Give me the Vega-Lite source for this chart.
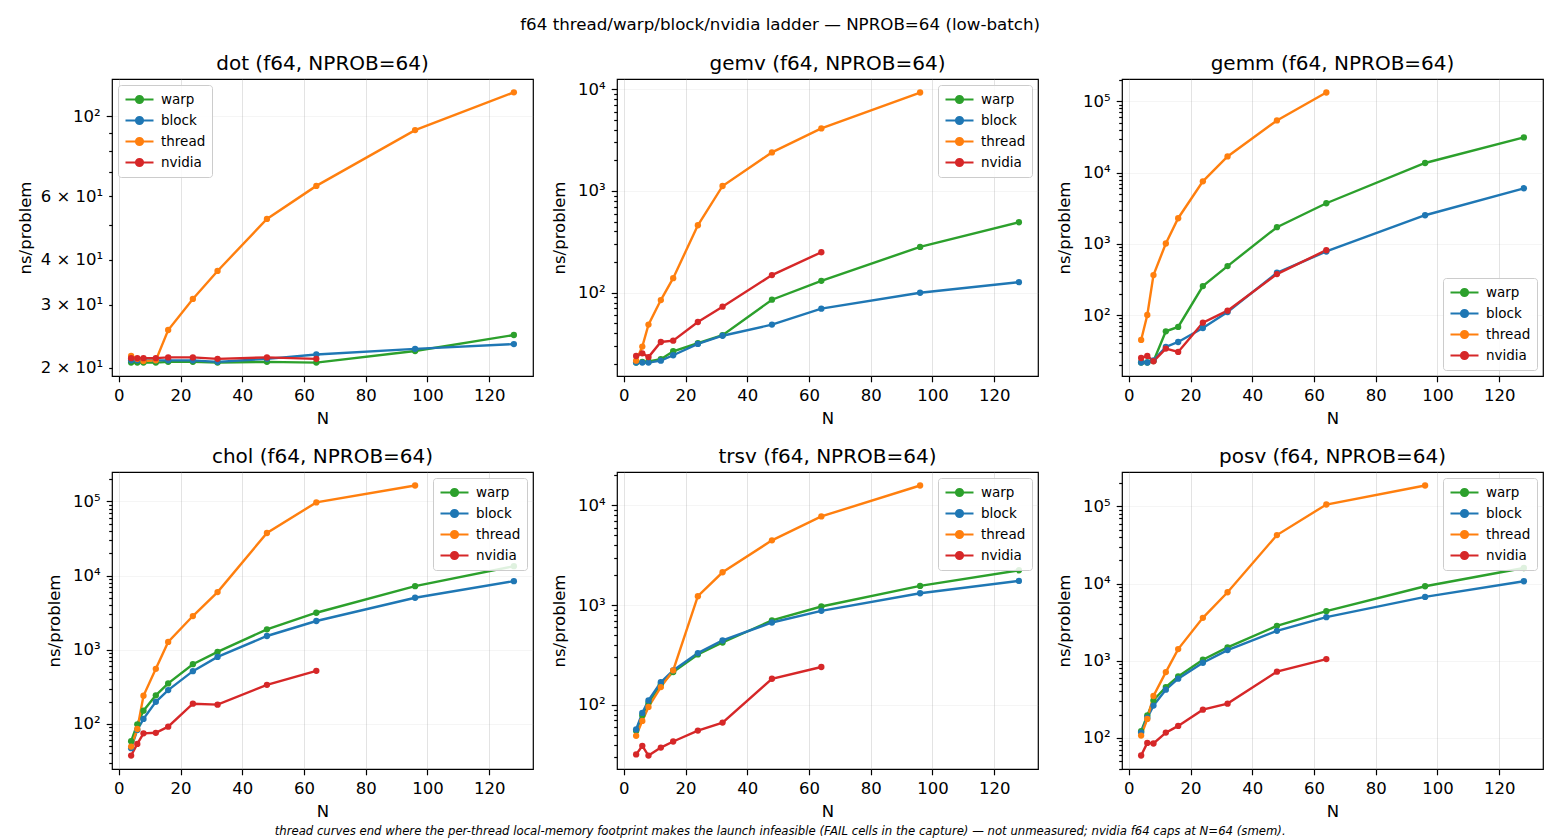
{
  "$schema": "https://vega.github.io/schema/vega-lite/v6.json",
  "padding": {"left": 16, "top": 16, "right": 12, "bottom": 4},
  "title": {"text": "f64 thread/warp/block/nvidia ladder — NPROB=64 (low-batch)", "fontSize": 16.7, "offset": 20, "anchor": "middle", "frame": "bounds"},
  "data": {"values": [
    {"op":"dot","impl":"warp","N":4,"ns":20.7},{"op":"dot","impl":"warp","N":6,"ns":20.7},{"op":"dot","impl":"warp","N":8,"ns":20.7},{"op":"dot","impl":"warp","N":12,"ns":20.7},{"op":"dot","impl":"warp","N":16,"ns":20.8},{"op":"dot","impl":"warp","N":24,"ns":20.8},{"op":"dot","impl":"warp","N":32,"ns":20.7},{"op":"dot","impl":"warp","N":48,"ns":20.8},{"op":"dot","impl":"warp","N":64,"ns":20.7},{"op":"dot","impl":"warp","N":96,"ns":22.3},{"op":"dot","impl":"warp","N":128,"ns":24.7},
    {"op":"dot","impl":"block","N":4,"ns":21.0},{"op":"dot","impl":"block","N":6,"ns":21.0},{"op":"dot","impl":"block","N":8,"ns":21.0},{"op":"dot","impl":"block","N":12,"ns":21.0},{"op":"dot","impl":"block","N":16,"ns":21.0},{"op":"dot","impl":"block","N":24,"ns":21.0},{"op":"dot","impl":"block","N":32,"ns":20.8},{"op":"dot","impl":"block","N":48,"ns":21.2},{"op":"dot","impl":"block","N":64,"ns":21.8},{"op":"dot","impl":"block","N":96,"ns":22.6},{"op":"dot","impl":"block","N":128,"ns":23.3},
    {"op":"dot","impl":"thread","N":4,"ns":21.6},{"op":"dot","impl":"thread","N":6,"ns":21.2},{"op":"dot","impl":"thread","N":8,"ns":20.9},{"op":"dot","impl":"thread","N":12,"ns":21.0},{"op":"dot","impl":"thread","N":16,"ns":25.5},{"op":"dot","impl":"thread","N":24,"ns":31.1},{"op":"dot","impl":"thread","N":32,"ns":37.2},{"op":"dot","impl":"thread","N":48,"ns":51.9},{"op":"dot","impl":"thread","N":64,"ns":64.1},{"op":"dot","impl":"thread","N":96,"ns":91.6},{"op":"dot","impl":"thread","N":128,"ns":116.6},
    {"op":"dot","impl":"nvidia","N":4,"ns":21.3},{"op":"dot","impl":"nvidia","N":6,"ns":21.3},{"op":"dot","impl":"nvidia","N":8,"ns":21.3},{"op":"dot","impl":"nvidia","N":12,"ns":21.3},{"op":"dot","impl":"nvidia","N":16,"ns":21.4},{"op":"dot","impl":"nvidia","N":24,"ns":21.4},{"op":"dot","impl":"nvidia","N":32,"ns":21.2},{"op":"dot","impl":"nvidia","N":48,"ns":21.4},{"op":"dot","impl":"nvidia","N":64,"ns":21.2},

    {"op":"gemv","impl":"warp","N":4,"ns":20.6},{"op":"gemv","impl":"warp","N":6,"ns":20.9},{"op":"gemv","impl":"warp","N":8,"ns":21.1},{"op":"gemv","impl":"warp","N":12,"ns":22.2},{"op":"gemv","impl":"warp","N":16,"ns":26.6},{"op":"gemv","impl":"warp","N":24,"ns":31.9},{"op":"gemv","impl":"warp","N":32,"ns":38.2},{"op":"gemv","impl":"warp","N":48,"ns":85.4},{"op":"gemv","impl":"warp","N":64,"ns":131},{"op":"gemv","impl":"warp","N":96,"ns":282},{"op":"gemv","impl":"warp","N":128,"ns":493},
    {"op":"gemv","impl":"block","N":4,"ns":20.6},{"op":"gemv","impl":"block","N":6,"ns":20.6},{"op":"gemv","impl":"block","N":8,"ns":20.6},{"op":"gemv","impl":"block","N":12,"ns":21.5},{"op":"gemv","impl":"block","N":16,"ns":24.3},{"op":"gemv","impl":"block","N":24,"ns":31.4},{"op":"gemv","impl":"block","N":32,"ns":37.8},{"op":"gemv","impl":"block","N":48,"ns":48.6},{"op":"gemv","impl":"block","N":64,"ns":69.7},{"op":"gemv","impl":"block","N":96,"ns":100},{"op":"gemv","impl":"block","N":128,"ns":127},
    {"op":"gemv","impl":"thread","N":4,"ns":21.5},{"op":"gemv","impl":"thread","N":6,"ns":29.6},{"op":"gemv","impl":"thread","N":8,"ns":48.6},{"op":"gemv","impl":"thread","N":12,"ns":84.7},{"op":"gemv","impl":"thread","N":16,"ns":139},{"op":"gemv","impl":"thread","N":24,"ns":460},{"op":"gemv","impl":"thread","N":32,"ns":1119},{"op":"gemv","impl":"thread","N":48,"ns":2393},{"op":"gemv","impl":"thread","N":64,"ns":4115},{"op":"gemv","impl":"thread","N":96,"ns":9275},
    {"op":"gemv","impl":"nvidia","N":4,"ns":23.9},{"op":"gemv","impl":"nvidia","N":6,"ns":25.4},{"op":"gemv","impl":"nvidia","N":8,"ns":23.3},{"op":"gemv","impl":"nvidia","N":12,"ns":32.8},{"op":"gemv","impl":"nvidia","N":16,"ns":33.8},{"op":"gemv","impl":"nvidia","N":24,"ns":51.6},{"op":"gemv","impl":"nvidia","N":32,"ns":72.9},{"op":"gemv","impl":"nvidia","N":48,"ns":149},{"op":"gemv","impl":"nvidia","N":64,"ns":250},

    {"op":"gemm","impl":"warp","N":4,"ns":21.5},{"op":"gemm","impl":"warp","N":6,"ns":21.5},{"op":"gemm","impl":"warp","N":8,"ns":22.5},{"op":"gemm","impl":"warp","N":12,"ns":59},{"op":"gemm","impl":"warp","N":16,"ns":68},{"op":"gemm","impl":"warp","N":24,"ns":255},{"op":"gemm","impl":"warp","N":32,"ns":487},{"op":"gemm","impl":"warp","N":48,"ns":1713},{"op":"gemm","impl":"warp","N":64,"ns":3715},{"op":"gemm","impl":"warp","N":96,"ns":13670},{"op":"gemm","impl":"warp","N":128,"ns":31300},
    {"op":"gemm","impl":"block","N":4,"ns":21.5},{"op":"gemm","impl":"block","N":6,"ns":21.5},{"op":"gemm","impl":"block","N":8,"ns":23.1},{"op":"gemm","impl":"block","N":12,"ns":35.6},{"op":"gemm","impl":"block","N":16,"ns":41.8},{"op":"gemm","impl":"block","N":24,"ns":65.7},{"op":"gemm","impl":"block","N":32,"ns":110},{"op":"gemm","impl":"block","N":48,"ns":392},{"op":"gemm","impl":"block","N":64,"ns":781},{"op":"gemm","impl":"block","N":96,"ns":2523},{"op":"gemm","impl":"block","N":128,"ns":6030},
    {"op":"gemm","impl":"thread","N":4,"ns":44.6},{"op":"gemm","impl":"thread","N":6,"ns":100},{"op":"gemm","impl":"thread","N":8,"ns":364},{"op":"gemm","impl":"thread","N":12,"ns":1010},{"op":"gemm","impl":"thread","N":16,"ns":2290},{"op":"gemm","impl":"thread","N":24,"ns":7560},{"op":"gemm","impl":"thread","N":32,"ns":16900},{"op":"gemm","impl":"thread","N":48,"ns":54200},{"op":"gemm","impl":"thread","N":64,"ns":133700},
    {"op":"gemm","impl":"nvidia","N":4,"ns":24.9},{"op":"gemm","impl":"nvidia","N":6,"ns":26.6},{"op":"gemm","impl":"nvidia","N":8,"ns":22.4},{"op":"gemm","impl":"nvidia","N":12,"ns":33.7},{"op":"gemm","impl":"nvidia","N":16,"ns":30.3},{"op":"gemm","impl":"nvidia","N":24,"ns":78.1},{"op":"gemm","impl":"nvidia","N":32,"ns":115},{"op":"gemm","impl":"nvidia","N":48,"ns":376},{"op":"gemm","impl":"nvidia","N":64,"ns":815},

    {"op":"chol","impl":"warp","N":4,"ns":58.4},{"op":"chol","impl":"warp","N":6,"ns":98.9},{"op":"chol","impl":"warp","N":8,"ns":151},{"op":"chol","impl":"warp","N":12,"ns":243},{"op":"chol","impl":"warp","N":16,"ns":352},{"op":"chol","impl":"warp","N":24,"ns":639},{"op":"chol","impl":"warp","N":32,"ns":936},{"op":"chol","impl":"warp","N":48,"ns":1887},{"op":"chol","impl":"warp","N":64,"ns":3160},{"op":"chol","impl":"warp","N":96,"ns":7210},{"op":"chol","impl":"warp","N":128,"ns":13390},
    {"op":"chol","impl":"block","N":4,"ns":47.1},{"op":"chol","impl":"block","N":6,"ns":83},{"op":"chol","impl":"block","N":8,"ns":117},{"op":"chol","impl":"block","N":12,"ns":199},{"op":"chol","impl":"block","N":16,"ns":286},{"op":"chol","impl":"block","N":24,"ns":515},{"op":"chol","impl":"block","N":32,"ns":802},{"op":"chol","impl":"block","N":48,"ns":1535},{"op":"chol","impl":"block","N":64,"ns":2443},{"op":"chol","impl":"block","N":96,"ns":5025},{"op":"chol","impl":"block","N":128,"ns":8420},
    {"op":"chol","impl":"thread","N":4,"ns":49.5},{"op":"chol","impl":"thread","N":6,"ns":85.5},{"op":"chol","impl":"thread","N":8,"ns":240},{"op":"chol","impl":"thread","N":12,"ns":553},{"op":"chol","impl":"thread","N":16,"ns":1275},{"op":"chol","impl":"thread","N":24,"ns":2850},{"op":"chol","impl":"thread","N":32,"ns":5990},{"op":"chol","impl":"thread","N":48,"ns":37560},{"op":"chol","impl":"thread","N":64,"ns":97000},{"op":"chol","impl":"thread","N":96,"ns":164000},
    {"op":"chol","impl":"nvidia","N":4,"ns":37.5},{"op":"chol","impl":"nvidia","N":6,"ns":53.8},{"op":"chol","impl":"nvidia","N":8,"ns":74.8},{"op":"chol","impl":"nvidia","N":12,"ns":76},{"op":"chol","impl":"nvidia","N":16,"ns":92},{"op":"chol","impl":"nvidia","N":24,"ns":187.5},{"op":"chol","impl":"nvidia","N":32,"ns":182},{"op":"chol","impl":"nvidia","N":48,"ns":337},{"op":"chol","impl":"nvidia","N":64,"ns":520},

    {"op":"trsv","impl":"warp","N":4,"ns":55},{"op":"trsv","impl":"warp","N":6,"ns":78.8},{"op":"trsv","impl":"warp","N":8,"ns":105},{"op":"trsv","impl":"warp","N":12,"ns":161},{"op":"trsv","impl":"warp","N":16,"ns":214},{"op":"trsv","impl":"warp","N":24,"ns":321},{"op":"trsv","impl":"warp","N":32,"ns":423},{"op":"trsv","impl":"warp","N":48,"ns":703},{"op":"trsv","impl":"warp","N":64,"ns":970},{"op":"trsv","impl":"warp","N":96,"ns":1560},{"op":"trsv","impl":"warp","N":128,"ns":2239},
    {"op":"trsv","impl":"block","N":4,"ns":56.7},{"op":"trsv","impl":"block","N":6,"ns":83.2},{"op":"trsv","impl":"block","N":8,"ns":111},{"op":"trsv","impl":"block","N":12,"ns":169},{"op":"trsv","impl":"block","N":16,"ns":222},{"op":"trsv","impl":"block","N":24,"ns":331},{"op":"trsv","impl":"block","N":32,"ns":443},{"op":"trsv","impl":"block","N":48,"ns":671},{"op":"trsv","impl":"block","N":64,"ns":878},{"op":"trsv","impl":"block","N":96,"ns":1318},{"op":"trsv","impl":"block","N":128,"ns":1751},
    {"op":"trsv","impl":"thread","N":4,"ns":49},{"op":"trsv","impl":"thread","N":6,"ns":69.2},{"op":"trsv","impl":"thread","N":8,"ns":95.5},{"op":"trsv","impl":"thread","N":12,"ns":151},{"op":"trsv","impl":"thread","N":16,"ns":222},{"op":"trsv","impl":"thread","N":24,"ns":1230},{"op":"trsv","impl":"thread","N":32,"ns":2138},{"op":"trsv","impl":"thread","N":48,"ns":4467},{"op":"trsv","impl":"thread","N":64,"ns":7762},{"op":"trsv","impl":"thread","N":96,"ns":15850},
    {"op":"trsv","impl":"nvidia","N":4,"ns":31.9},{"op":"trsv","impl":"nvidia","N":6,"ns":38.9},{"op":"trsv","impl":"nvidia","N":8,"ns":31.1},{"op":"trsv","impl":"nvidia","N":12,"ns":37.4},{"op":"trsv","impl":"nvidia","N":16,"ns":43},{"op":"trsv","impl":"nvidia","N":24,"ns":55.4},{"op":"trsv","impl":"nvidia","N":32,"ns":66.6},{"op":"trsv","impl":"nvidia","N":48,"ns":183},{"op":"trsv","impl":"nvidia","N":64,"ns":240},

    {"op":"posv","impl":"warp","N":4,"ns":122},{"op":"posv","impl":"warp","N":6,"ns":196},{"op":"posv","impl":"warp","N":8,"ns":307},{"op":"posv","impl":"warp","N":12,"ns":456},{"op":"posv","impl":"warp","N":16,"ns":627},{"op":"posv","impl":"warp","N":24,"ns":1030},{"op":"posv","impl":"warp","N":32,"ns":1487},{"op":"posv","impl":"warp","N":48,"ns":2835},{"op":"posv","impl":"warp","N":64,"ns":4387},{"op":"posv","impl":"warp","N":96,"ns":9240},{"op":"posv","impl":"warp","N":128,"ns":15950},
    {"op":"posv","impl":"block","N":4,"ns":117},{"op":"posv","impl":"block","N":6,"ns":183},{"op":"posv","impl":"block","N":8,"ns":262},{"op":"posv","impl":"block","N":12,"ns":422},{"op":"posv","impl":"block","N":16,"ns":585},{"op":"posv","impl":"block","N":24,"ns":942},{"op":"posv","impl":"block","N":32,"ns":1374},{"op":"posv","impl":"block","N":48,"ns":2443},{"op":"posv","impl":"block","N":64,"ns":3672},{"op":"posv","impl":"block","N":96,"ns":6725},{"op":"posv","impl":"block","N":128,"ns":10720},
    {"op":"posv","impl":"thread","N":4,"ns":107},{"op":"posv","impl":"thread","N":6,"ns":176},{"op":"posv","impl":"thread","N":8,"ns":349},{"op":"posv","impl":"thread","N":12,"ns":713},{"op":"posv","impl":"thread","N":16,"ns":1415},{"op":"posv","impl":"thread","N":24,"ns":3597},{"op":"posv","impl":"thread","N":32,"ns":7725},{"op":"posv","impl":"thread","N":48,"ns":42600},{"op":"posv","impl":"thread","N":64,"ns":106000},{"op":"posv","impl":"thread","N":96,"ns":187000},
    {"op":"posv","impl":"nvidia","N":4,"ns":59.1},{"op":"posv","impl":"nvidia","N":6,"ns":86.1},{"op":"posv","impl":"nvidia","N":8,"ns":84.6},{"op":"posv","impl":"nvidia","N":12,"ns":117},{"op":"posv","impl":"nvidia","N":16,"ns":143},{"op":"posv","impl":"nvidia","N":24,"ns":232},{"op":"posv","impl":"nvidia","N":32,"ns":278},{"op":"posv","impl":"nvidia","N":48,"ns":721},{"op":"posv","impl":"nvidia","N":64,"ns":1052}
  ]},
  "vconcat": [
    {
      "title": {"text": "thread curves end where the per-thread local-memory footprint makes the launch infeasible (FAIL cells in the capture) — not unmeasured; nvidia f64 caps at N=64 (smem).", "orient": "bottom", "fontSize": 11.7, "fontStyle": "italic", "offset": 6, "anchor": "middle", "frame": "bounds"},
      "columns": 3,
      "spacing": {"row": 96, "column": 84},
      "bounds": "flush",
      "resolve": {"scale": {"stroke": "independent", "fill": "independent"}, "legend": {"stroke": "independent", "fill": "independent"}},
      "concat": [
        {
          "title": "dot (f64, NPROB=64)",
          "width": 421, "height": 297,
          "transform": [{"filter": "datum.op == 'dot'"}],
          "encoding": {
            "x": {"field": "N", "type": "quantitative", "title": "N", "scale": {"domain": [-2.2, 134.2], "nice": false, "zero": false}, "axis": {"values": [0, 20, 40, 60, 80, 100, 120]}},
            "y": {"field": "ns", "type": "quantitative", "title": "ns/problem", "scale": {"type": "log", "domain": [19.0, 127], "nice": false},
              "axis": {"values": [20, 30, 40, 50, 60, 70, 80, 90, 100], "titlePadding": 7,
                "labelExpr": "datum.value == 100 ? '10²' : datum.value == 20 ? '2 × 10¹' : datum.value == 30 ? '3 × 10¹' : datum.value == 40 ? '4 × 10¹' : datum.value == 60 ? '6 × 10¹' : ''",
                "labelFontSize": {"condition": {"test": "datum.value == 100 || datum.value == 20 || datum.value == 30 || datum.value == 40 || datum.value == 60", "value": 16.5}, "value": 0},
                "tickSize": {"condition": {"test": "datum.value == 100", "value": 5.8}, "value": 3.3},
                "gridOpacity": {"condition": {"test": "datum.value == 100", "value": 0.35}, "value": 0}}}
          },
          "layer": [
            {"mark": {"type": "line", "strokeWidth": 2.4},
             "encoding": {"stroke": {"field": "impl", "type": "nominal", "scale": {"domain": ["warp", "block", "thread", "nvidia"], "range": ["#2ca02c", "#1f77b4", "#ff7f0e", "#d62728"]},
               "legend": {"title": null, "orient": "top-left", "symbolType": "M-2,0L2,0M0.5,0A0.5,0.5,0,1,1,-0.5,0A0.5,0.5,0,1,1,0.5,0"}}}},
            {"mark": {"type": "point", "filled": true, "size": 40, "opacity": 1},
             "encoding": {"fill": {"field": "impl", "type": "nominal", "scale": {"domain": ["warp", "block", "thread", "nvidia"], "range": ["#2ca02c", "#1f77b4", "#ff7f0e", "#d62728"]},
               "legend": {"title": null, "orient": "top-left", "symbolType": "M-2,0L2,0M0.5,0A0.5,0.5,0,1,1,-0.5,0A0.5,0.5,0,1,1,0.5,0"}}}}
          ]
        },
        {
          "title": "gemv (f64, NPROB=64)",
          "width": 421, "height": 297,
          "transform": [{"filter": "datum.op == 'gemv'"}],
          "encoding": {
            "x": {"field": "N", "type": "quantitative", "title": "N", "scale": {"domain": [-2.2, 134.2], "nice": false, "zero": false}, "axis": {"values": [0, 20, 40, 60, 80, 100, 120]}},
            "y": {"field": "ns", "type": "quantitative", "title": "ns/problem", "scale": {"type": "log", "domain": [15.2, 12590], "nice": false},
              "axis": {"values": [20, 30, 40, 50, 60, 70, 80, 90, 100, 200, 300, 400, 500, 600, 700, 800, 900, 1000, 2000, 3000, 4000, 5000, 6000, 7000, 8000, 9000, 10000],
                "labelExpr": "datum.value == 100 ? '10²' : datum.value == 1000 ? '10³' : datum.value == 10000 ? '10⁴' : datum.value == 100000 ? '10⁵' : ''",
                "labelFontSize": {"condition": {"test": "datum.value == 100 || datum.value == 1000 || datum.value == 10000 || datum.value == 100000", "value": 16.5}, "value": 0},
                "tickSize": {"condition": {"test": "datum.value == 100 || datum.value == 1000 || datum.value == 10000 || datum.value == 100000", "value": 5.8}, "value": 3.3},
                "gridOpacity": {"condition": {"test": "datum.value == 100 || datum.value == 1000 || datum.value == 10000 || datum.value == 100000", "value": 0.35}, "value": 0}}}
          },
          "layer": [
            {"mark": {"type": "line", "strokeWidth": 2.4},
             "encoding": {"stroke": {"field": "impl", "type": "nominal", "scale": {"domain": ["warp", "block", "thread", "nvidia"], "range": ["#2ca02c", "#1f77b4", "#ff7f0e", "#d62728"]},
               "legend": {"title": null, "orient": "top-right", "symbolType": "M-2,0L2,0M0.5,0A0.5,0.5,0,1,1,-0.5,0A0.5,0.5,0,1,1,0.5,0"}}}},
            {"mark": {"type": "point", "filled": true, "size": 40, "opacity": 1},
             "encoding": {"fill": {"field": "impl", "type": "nominal", "scale": {"domain": ["warp", "block", "thread", "nvidia"], "range": ["#2ca02c", "#1f77b4", "#ff7f0e", "#d62728"]},
               "legend": {"title": null, "orient": "top-right", "symbolType": "M-2,0L2,0M0.5,0A0.5,0.5,0,1,1,-0.5,0A0.5,0.5,0,1,1,0.5,0"}}}}
          ]
        },
        {
          "title": "gemm (f64, NPROB=64)",
          "width": 421, "height": 297,
          "transform": [{"filter": "datum.op == 'gemm'"}],
          "encoding": {
            "x": {"field": "N", "type": "quantitative", "title": "N", "scale": {"domain": [-2.2, 134.2], "nice": false, "zero": false}, "axis": {"values": [0, 20, 40, 60, 80, 100, 120]}},
            "y": {"field": "ns", "type": "quantitative", "title": "ns/problem", "scale": {"type": "log", "domain": [13.9, 206900], "nice": false},
              "axis": {"values": [20, 30, 40, 50, 60, 70, 80, 90, 100, 200, 300, 400, 500, 600, 700, 800, 900, 1000, 2000, 3000, 4000, 5000, 6000, 7000, 8000, 9000, 10000, 20000, 30000, 40000, 50000, 60000, 70000, 80000, 90000, 100000, 200000],
                "labelExpr": "datum.value == 100 ? '10²' : datum.value == 1000 ? '10³' : datum.value == 10000 ? '10⁴' : datum.value == 100000 ? '10⁵' : ''",
                "labelFontSize": {"condition": {"test": "datum.value == 100 || datum.value == 1000 || datum.value == 10000 || datum.value == 100000", "value": 16.5}, "value": 0},
                "tickSize": {"condition": {"test": "datum.value == 100 || datum.value == 1000 || datum.value == 10000 || datum.value == 100000", "value": 5.8}, "value": 3.3},
                "gridOpacity": {"condition": {"test": "datum.value == 100 || datum.value == 1000 || datum.value == 10000 || datum.value == 100000", "value": 0.35}, "value": 0}}}
          },
          "layer": [
            {"mark": {"type": "line", "strokeWidth": 2.4},
             "encoding": {"stroke": {"field": "impl", "type": "nominal", "scale": {"domain": ["warp", "block", "thread", "nvidia"], "range": ["#2ca02c", "#1f77b4", "#ff7f0e", "#d62728"]},
               "legend": {"title": null, "orient": "bottom-right", "symbolType": "M-2,0L2,0M0.5,0A0.5,0.5,0,1,1,-0.5,0A0.5,0.5,0,1,1,0.5,0"}}}},
            {"mark": {"type": "point", "filled": true, "size": 40, "opacity": 1},
             "encoding": {"fill": {"field": "impl", "type": "nominal", "scale": {"domain": ["warp", "block", "thread", "nvidia"], "range": ["#2ca02c", "#1f77b4", "#ff7f0e", "#d62728"]},
               "legend": {"title": null, "orient": "bottom-right", "symbolType": "M-2,0L2,0M0.5,0A0.5,0.5,0,1,1,-0.5,0A0.5,0.5,0,1,1,0.5,0"}}}}
          ]
        },
        {
          "title": "chol (f64, NPROB=64)",
          "width": 421, "height": 297,
          "transform": [{"filter": "datum.op == 'chol'"}],
          "encoding": {
            "x": {"field": "N", "type": "quantitative", "title": "N", "scale": {"domain": [-2.2, 134.2], "nice": false, "zero": false}, "axis": {"values": [0, 20, 40, 60, 80, 100, 120]}},
            "y": {"field": "ns", "type": "quantitative", "title": "ns/problem", "scale": {"type": "log", "domain": [24.7, 249400], "nice": false},
              "axis": {"values": [30, 40, 50, 60, 70, 80, 90, 100, 200, 300, 400, 500, 600, 700, 800, 900, 1000, 2000, 3000, 4000, 5000, 6000, 7000, 8000, 9000, 10000, 20000, 30000, 40000, 50000, 60000, 70000, 80000, 90000, 100000, 200000],
                "labelExpr": "datum.value == 100 ? '10²' : datum.value == 1000 ? '10³' : datum.value == 10000 ? '10⁴' : datum.value == 100000 ? '10⁵' : ''",
                "labelFontSize": {"condition": {"test": "datum.value == 100 || datum.value == 1000 || datum.value == 10000 || datum.value == 100000", "value": 16.5}, "value": 0},
                "tickSize": {"condition": {"test": "datum.value == 100 || datum.value == 1000 || datum.value == 10000 || datum.value == 100000", "value": 5.8}, "value": 3.3},
                "gridOpacity": {"condition": {"test": "datum.value == 100 || datum.value == 1000 || datum.value == 10000 || datum.value == 100000", "value": 0.35}, "value": 0}}}
          },
          "layer": [
            {"mark": {"type": "line", "strokeWidth": 2.4},
             "encoding": {"stroke": {"field": "impl", "type": "nominal", "scale": {"domain": ["warp", "block", "thread", "nvidia"], "range": ["#2ca02c", "#1f77b4", "#ff7f0e", "#d62728"]},
               "legend": {"title": null, "orient": "top-right", "symbolType": "M-2,0L2,0M0.5,0A0.5,0.5,0,1,1,-0.5,0A0.5,0.5,0,1,1,0.5,0"}}}},
            {"mark": {"type": "point", "filled": true, "size": 40, "opacity": 1},
             "encoding": {"fill": {"field": "impl", "type": "nominal", "scale": {"domain": ["warp", "block", "thread", "nvidia"], "range": ["#2ca02c", "#1f77b4", "#ff7f0e", "#d62728"]},
               "legend": {"title": null, "orient": "top-right", "symbolType": "M-2,0L2,0M0.5,0A0.5,0.5,0,1,1,-0.5,0A0.5,0.5,0,1,1,0.5,0"}}}}
          ]
        },
        {
          "title": "trsv (f64, NPROB=64)",
          "width": 421, "height": 297,
          "transform": [{"filter": "datum.op == 'trsv'"}],
          "encoding": {
            "x": {"field": "N", "type": "quantitative", "title": "N", "scale": {"domain": [-2.2, 134.2], "nice": false, "zero": false}, "axis": {"values": [0, 20, 40, 60, 80, 100, 120]}},
            "y": {"field": "ns", "type": "quantitative", "title": "ns/problem", "scale": {"type": "log", "domain": [22.8, 21640], "nice": false},
              "axis": {"values": [30, 40, 50, 60, 70, 80, 90, 100, 200, 300, 400, 500, 600, 700, 800, 900, 1000, 2000, 3000, 4000, 5000, 6000, 7000, 8000, 9000, 10000, 20000],
                "labelExpr": "datum.value == 100 ? '10²' : datum.value == 1000 ? '10³' : datum.value == 10000 ? '10⁴' : datum.value == 100000 ? '10⁵' : ''",
                "labelFontSize": {"condition": {"test": "datum.value == 100 || datum.value == 1000 || datum.value == 10000 || datum.value == 100000", "value": 16.5}, "value": 0},
                "tickSize": {"condition": {"test": "datum.value == 100 || datum.value == 1000 || datum.value == 10000 || datum.value == 100000", "value": 5.8}, "value": 3.3},
                "gridOpacity": {"condition": {"test": "datum.value == 100 || datum.value == 1000 || datum.value == 10000 || datum.value == 100000", "value": 0.35}, "value": 0}}}
          },
          "layer": [
            {"mark": {"type": "line", "strokeWidth": 2.4},
             "encoding": {"stroke": {"field": "impl", "type": "nominal", "scale": {"domain": ["warp", "block", "thread", "nvidia"], "range": ["#2ca02c", "#1f77b4", "#ff7f0e", "#d62728"]},
               "legend": {"title": null, "orient": "top-right", "symbolType": "M-2,0L2,0M0.5,0A0.5,0.5,0,1,1,-0.5,0A0.5,0.5,0,1,1,0.5,0"}}}},
            {"mark": {"type": "point", "filled": true, "size": 40, "opacity": 1},
             "encoding": {"fill": {"field": "impl", "type": "nominal", "scale": {"domain": ["warp", "block", "thread", "nvidia"], "range": ["#2ca02c", "#1f77b4", "#ff7f0e", "#d62728"]},
               "legend": {"title": null, "orient": "top-right", "symbolType": "M-2,0L2,0M0.5,0A0.5,0.5,0,1,1,-0.5,0A0.5,0.5,0,1,1,0.5,0"}}}}
          ]
        },
        {
          "title": "posv (f64, NPROB=64)",
          "width": 421, "height": 297,
          "transform": [{"filter": "datum.op == 'posv'"}],
          "encoding": {
            "x": {"field": "N", "type": "quantitative", "title": "N", "scale": {"domain": [-2.2, 134.2], "nice": false, "zero": false}, "axis": {"values": [0, 20, 40, 60, 80, 100, 120]}},
            "y": {"field": "ns", "type": "quantitative", "title": "ns/problem", "scale": {"type": "log", "domain": [39.5, 279800], "nice": false},
              "axis": {"values": [40, 50, 60, 70, 80, 90, 100, 200, 300, 400, 500, 600, 700, 800, 900, 1000, 2000, 3000, 4000, 5000, 6000, 7000, 8000, 9000, 10000, 20000, 30000, 40000, 50000, 60000, 70000, 80000, 90000, 100000, 200000],
                "labelExpr": "datum.value == 100 ? '10²' : datum.value == 1000 ? '10³' : datum.value == 10000 ? '10⁴' : datum.value == 100000 ? '10⁵' : ''",
                "labelFontSize": {"condition": {"test": "datum.value == 100 || datum.value == 1000 || datum.value == 10000 || datum.value == 100000", "value": 16.5}, "value": 0},
                "tickSize": {"condition": {"test": "datum.value == 100 || datum.value == 1000 || datum.value == 10000 || datum.value == 100000", "value": 5.8}, "value": 3.3},
                "gridOpacity": {"condition": {"test": "datum.value == 100 || datum.value == 1000 || datum.value == 10000 || datum.value == 100000", "value": 0.35}, "value": 0}}}
          },
          "layer": [
            {"mark": {"type": "line", "strokeWidth": 2.4},
             "encoding": {"stroke": {"field": "impl", "type": "nominal", "scale": {"domain": ["warp", "block", "thread", "nvidia"], "range": ["#2ca02c", "#1f77b4", "#ff7f0e", "#d62728"]},
               "legend": {"title": null, "orient": "top-right", "symbolType": "M-2,0L2,0M0.5,0A0.5,0.5,0,1,1,-0.5,0A0.5,0.5,0,1,1,0.5,0"}}}},
            {"mark": {"type": "point", "filled": true, "size": 40, "opacity": 1},
             "encoding": {"fill": {"field": "impl", "type": "nominal", "scale": {"domain": ["warp", "block", "thread", "nvidia"], "range": ["#2ca02c", "#1f77b4", "#ff7f0e", "#d62728"]},
               "legend": {"title": null, "orient": "top-right", "symbolType": "M-2,0L2,0M0.5,0A0.5,0.5,0,1,1,-0.5,0A0.5,0.5,0,1,1,0.5,0"}}}}
          ]
        }
      ]
    }
  ],
  "config": {
    "font": "DejaVu Sans",
    "view": {"stroke": "black", "strokeWidth": 1.2},
    "axis": {"domain": false, "tickColor": "black", "tickWidth": 1.2, "tickSize": 5.8, "labelFont": "DejaVu Sans", "labelFontSize": 16.5, "labelColor": "black", "labelPadding": 6, "labelOverlap": false, "labelFlush": false, "titleFont": "DejaVu Sans", "titleFontSize": 16.5, "titleFontWeight": "normal", "titleColor": "black", "gridColor": "#b0b0b0", "gridOpacity": 0.35, "gridWidth": 1},
    "axisX": {"titlePadding": 6},
    "axisY": {"titlePadding": 10},
    "title": {"font": "DejaVu Sans", "fontSize": 20, "fontWeight": "normal", "color": "black", "offset": 5},
    "legend": {"labelFont": "DejaVu Sans", "labelFontSize": 13.5, "labelColor": "black", "fillColor": "rgba(255,255,255,0.85)", "strokeColor": "#cccccc", "cornerRadius": 3, "padding": 6, "offset": 6, "symbolSize": 196, "symbolStrokeWidth": 2.2, "symbolOffset": 7, "labelOffset": 13, "rowPadding": 4}
  }
}
